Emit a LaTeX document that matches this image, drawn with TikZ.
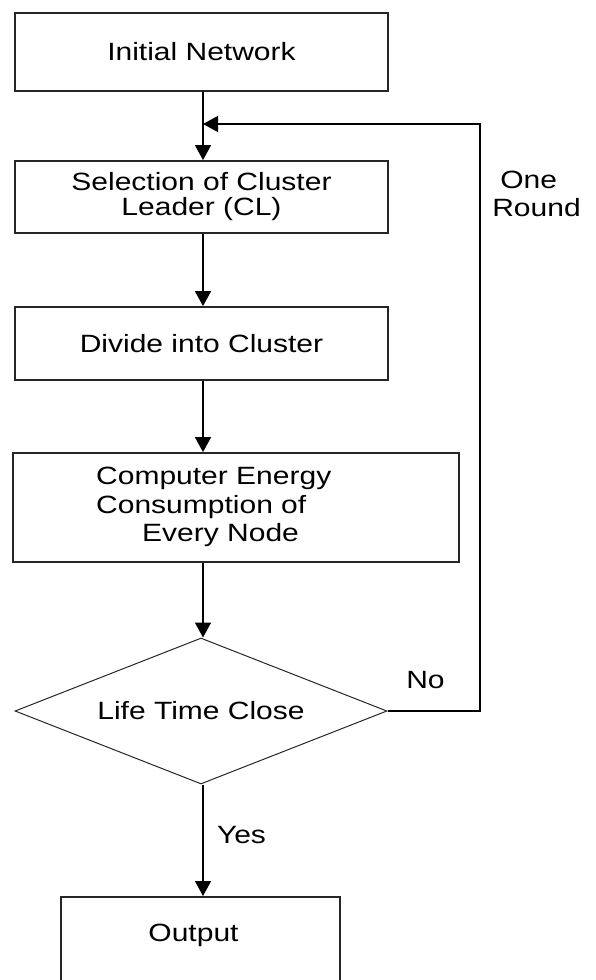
\documentclass[tikz,border=0pt]{standalone}
\usepackage{fontspec}
\setmainfont{Liberation Sans}[FakeStretch=1.2]
\usetikzlibrary{arrows.meta,shapes.geometric}
\begin{document}
\begin{tikzpicture}[x=1pt,y=-1pt,
  box/.style={draw=black!85,line width=1.8pt,rectangle,inner sep=0pt,align=center,
    font=\fontsize{25pt}{25pt}\selectfont},
  flow/.style={draw=black,line width=1.4pt,-{Triangle[width=16pt,length=15pt]}},
  lbl/.style={font=\fontsize{25pt}{28pt}\selectfont,inner sep=0pt,align=left}]
\useasboundingbox (0,0) rectangle (595,980);
\clip (0,0) rectangle (595,980);
% boxes
\node[box,minimum width=373pt,minimum height=78pt] (b1) at (201.5,52) {Initial Network};
\node[box,minimum width=373pt,minimum height=72pt] (b2) at (201.5,197) {Selection of Cluster\\Leader (CL)};
\node[box,minimum width=373pt,minimum height=73pt] (b3) at (201.5,343.5) {Divide into Cluster};
\node[box,minimum width=446pt,minimum height=109pt] (b4) at (236,507.5) {};
\node[lbl,anchor=west,font=\fontsize{25pt}{28.5pt}\selectfont] (b4t) at (96,507) {Computer Energy\\Consumption of\\\hspace*{46pt}Every Node};
\node[draw=black!85,line width=1pt,diamond,aspect=2.55,inner sep=0pt,minimum width=372pt,minimum height=146pt,
  font=\fontsize{25pt}{25pt}\selectfont] (dec) at (201,711) {Life Time Close};
\node[box,minimum width=279pt,minimum height=100pt,anchor=north] (out) at (200.5,896) {};
\node[lbl] (outt) at (193.5,935) {Output};
% connectors
\coordinate (j) at (203,124);
\coordinate (fb) at (480,124);
\draw[flow] (b1.south -| j) -- (b2.north -| j);
\draw[flow] (b2.south -| j) -- (b3.north -| j);
\draw[flow] (b3.south -| j) -- (b4.north -| j);
\draw[flow] (b4.south -| j) -- (dec.north -| j);
\draw[flow] (dec.south -| j) -- (out.north -| j);
\draw[flow] (dec.east) -| (fb) -- (j);
% labels
\node[lbl] (one) at (536.5,194) {\hspace*{8pt}One\\Round};
\node[lbl] (no) at (425.5,680) {No};
\node[lbl] (yes) at (241.5,835) {Yes};
\end{tikzpicture}
\end{document}
